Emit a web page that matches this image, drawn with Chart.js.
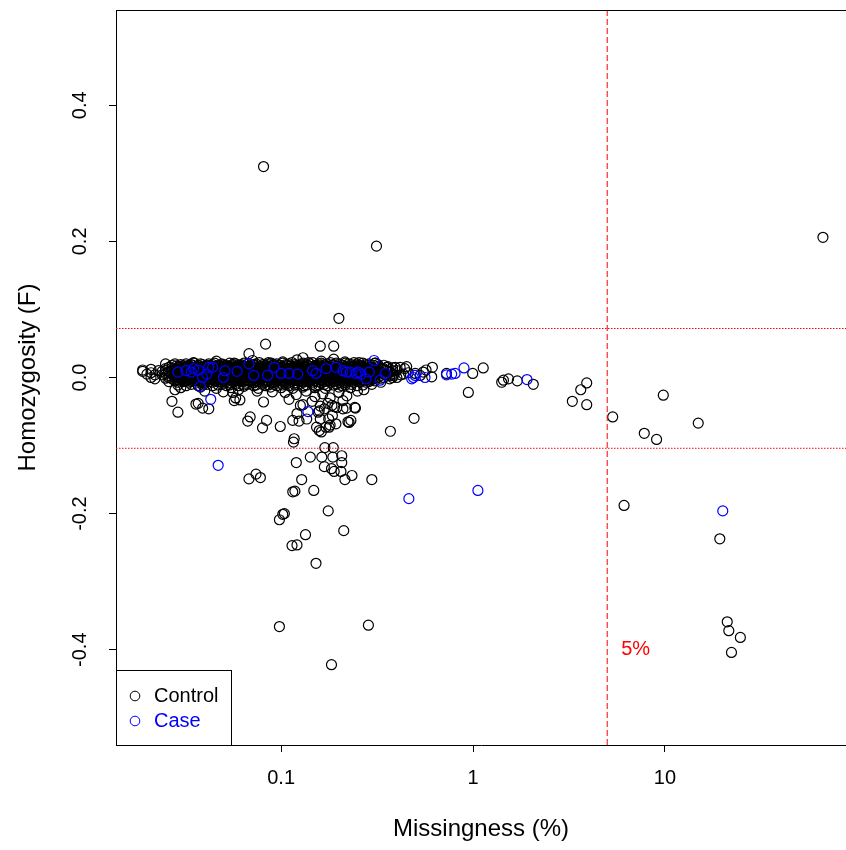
<!DOCTYPE html>
<html>
<head>
<meta charset="utf-8">
<script src="https://cdn.jsdelivr.net/npm/chart.js@4"></script>
<style>
  html, body { margin: 0; padding: 0; background: #fff; }
  #wrap { width: 846px; height: 850px; }
</style>
</head>
<body>
<div id="wrap"><canvas id="chart" width="846" height="850"></canvas></div>
<script>
// axes
const xTicks = [0.1, 1, 10]
const xTickLabels = ['0.1', '1', '10']
const yTicks = [-0.4, -0.2, 0.0, 0.2, 0.4]
const yTickLabels = ['-0.4', '-0.2', '0.0', '0.2', '0.4']
const xMin = 0.0138, xMax = 87.7
const yMin = -0.54, yMax = 0.54

// cut-offs
const missingCutoff = 5
const fUpper = 0.072
const fLower = -0.104

const seriesNames = ['Control', 'Case']
const seriesColors = ['#000000', '#0000ff']

// [missingness %, F]
const controlOutliers = [
  [0.081,0.310],[0.314,0.193],[0.200,0.087],[66.5,0.206],
  [0.083,0.049],[0.160,0.046],[0.188,0.046],[0.068,0.035],[0.130,0.029],
  [0.019,0.009],[0.021,0.000],[0.025,0.020],
  [0.028,-0.018],[0.027,-0.035],[0.029,-0.051],[0.037,-0.038],[0.039,-0.045],[0.042,-0.046],
  [0.056,-0.022],[0.058,-0.030],[0.061,-0.033],
  [0.067,-0.064],[0.069,-0.058],[0.084,-0.063],[0.080,-0.074],[0.099,-0.072],[0.117,-0.090],
  [0.124,-0.064],[0.115,-0.063],
  [0.158,-0.049],[0.168,-0.046],[0.160,-0.061],[0.185,-0.056],[0.171,-0.073],[0.158,-0.078],
  [0.178,-0.073],[0.193,-0.068],[0.210,-0.046],[0.219,-0.045],[0.244,-0.045],[0.226,-0.066],[0.231,-0.063],
  [0.121,-0.053],[0.136,-0.061],[0.153,-0.073],[0.162,-0.080],[0.180,-0.070],[0.177,-0.061],
  [0.156,-0.051],[0.223,-0.065],[0.242,-0.044],[0.195,-0.044],[0.184,-0.041],[0.126,-0.041],
  [0.081,-0.036],[0.057,-0.034],[0.036,-0.039],
  [0.493,-0.060],[0.371,-0.079],[0.945,-0.022],
  [0.393,0.015],[0.417,0.015],[0.451,0.016],[0.434,0.005],[0.385,0.003],[0.401,0.000],
  [0.569,0.011],[0.614,0.015],[0.609,0.001],[0.530,0.003],[0.727,0.006],[0.996,0.006],[1.13,0.014],
  [1.41,-0.007],[1.44,-0.004],[1.53,-0.002],[1.70,-0.005],[2.06,-0.010],
  [3.91,-0.008],[3.64,-0.018],[3.29,-0.035],[3.91,-0.040],[5.34,-0.058],[9.80,-0.026],
  [7.80,-0.082],[9.04,-0.091],[14.9,-0.067],[6.12,-0.188],[19.3,-0.237],
  [21.1,-0.359],[21.5,-0.372],[24.7,-0.382],[22.2,-0.404],
  [0.116,-0.095],[0.120,-0.125],[0.142,-0.117],[0.163,-0.117],[0.168,-0.131],[0.186,-0.117],
  [0.187,-0.103],[0.169,-0.103],[0.189,-0.138],[0.183,-0.134],[0.205,-0.138],[0.207,-0.125],
  [0.207,-0.115],[0.234,-0.144],[0.215,-0.150],
  [0.068,-0.149],[0.074,-0.142],[0.078,-0.147],[0.128,-0.150],[0.297,-0.150],
  [0.115,-0.168],[0.118,-0.167],[0.148,-0.166],[0.104,-0.200],[0.102,-0.201],[0.098,-0.209],
  [0.176,-0.196],[0.212,-0.225],[0.134,-0.231],[0.114,-0.247],[0.121,-0.246],[0.152,-0.273],
  [0.098,-0.366],[0.285,-0.364],[0.183,-0.422]
]

// loose points round the edges of the band
const controlFringe = [
  [0.019,0.011],[0.021,0.012],[0.023,0.010],[0.020,0.005],[0.022,0.004],[0.022,-0.002],[0.021,0.007],
  [0.035,0.022],[0.046,0.024],[0.057,0.021],[0.071,0.025],[0.086,0.022],[0.102,0.023],[0.121,0.026],
  [0.139,0.022],[0.162,0.024],[0.188,0.027],[0.215,0.023],[0.255,0.022],[0.31,0.021],
  [0.030,-0.015],[0.038,-0.014],[0.046,-0.016],[0.055,-0.015],[0.064,-0.013],[0.076,-0.016],
  [0.088,-0.014],[0.100,-0.015],[0.115,-0.016],[0.130,-0.014],[0.150,-0.015],[0.170,-0.016],
  [0.200,-0.014],[0.230,-0.015],
  [0.040,-0.020],[0.050,-0.021],[0.060,-0.018],[0.075,-0.020],[0.090,-0.021],[0.105,-0.022],
  [0.120,-0.025],[0.135,-0.020],[0.150,-0.028],[0.165,-0.024],[0.180,-0.030],[0.200,-0.022],
  [0.220,-0.027],[0.250,-0.020],[0.270,-0.018],[0.110,-0.032],[0.145,-0.035],[0.175,-0.038],
  [0.210,-0.034],[0.130,-0.040],[0.160,-0.042],[0.190,-0.043],
  [0.340,0.012],[0.350,0.004],[0.360,0.016],[0.370,0.008],[0.380,0.000],[0.400,0.010],
  [0.420,0.004],[0.440,0.013],[0.460,0.007],[0.500,0.006],[0.550,0.008]
]

// the dense band round F = 0: missingness columns and the F of each row
const bandX = [
  0.024,0.025,0.026,0.027,0.028,0.029,0.030,0.031,0.032,0.033,
  0.034,0.035,0.037,0.038,0.039,0.041,0.042,0.044,0.045,0.047,
  0.049,0.050,0.052,0.054,0.056,0.058,0.060,0.062,0.064,0.067,
  0.069,0.072,0.074,0.077,0.080,0.083,0.086,0.089,0.092,0.095,
  0.099,0.102,0.106,0.110,0.114,0.118,0.122,0.127,0.131,0.136,
  0.141,0.146,0.151,0.157,0.162,0.168,0.174,0.181,0.187,0.194,
  0.201,0.208,0.216,0.224,0.232,0.240,0.249,0.258,0.267,0.277,
  0.287,0.297,0.308,0.319,0.331,0.343,0.355,0.368,0.381
]
const bandRow1 = [
  null,null,null,0.018,0.020,null,0.019,0.017,0.020,0.018,
  0.019,0.021,0.018,0.020,0.019,0.017,0.020,0.019,0.021,0.018,
  0.020,0.019,0.018,0.021,0.019,0.020,0.018,0.019,0.021,0.020,
  0.018,0.019,0.020,0.022,0.019,0.018,0.020,0.021,0.019,0.020,
  0.018,0.021,0.019,0.020,0.022,0.019,0.018,0.020,0.021,0.019,
  0.020,0.022,0.018,0.020,0.021,0.019,0.020,0.022,0.019,0.021,
  0.020,0.018,0.021,0.020,0.019,0.022,0.020,0.018,0.021,0.019,
  0.020,null,0.021,0.019,null,0.018,null,null,null
]
const bandRow2 = [
  null,0.013,0.015,0.014,0.012,0.015,0.013,0.014,0.016,0.013,
  0.015,0.014,0.012,0.015,0.014,0.016,0.013,0.014,0.015,0.012,
  0.014,0.016,0.013,0.015,0.014,0.012,0.015,0.014,0.016,0.013,
  0.014,0.015,0.013,0.016,0.014,0.015,0.012,0.014,0.016,0.013,
  0.015,0.014,0.013,0.016,0.014,0.015,0.013,0.014,0.016,0.015,
  0.013,0.014,0.016,0.015,0.013,0.014,0.015,0.016,0.013,0.014,
  0.015,0.013,0.016,0.014,0.015,0.013,0.014,0.016,0.015,0.013,
  0.014,0.015,0.013,0.016,0.014,0.013,0.015,null,0.014
]
const bandRow3 = [
  0.009,0.010,0.008,0.010,0.009,0.011,0.008,0.009,0.010,0.008,
  0.010,0.009,0.011,0.008,0.010,0.009,0.008,0.010,0.011,0.009,
  0.008,0.010,0.009,0.011,0.008,0.010,0.009,0.008,0.011,0.010,
  0.009,0.008,0.010,0.011,0.009,0.010,0.008,0.009,0.011,0.010,
  0.008,0.009,0.010,0.011,0.009,0.008,0.010,0.009,0.011,0.008,
  0.010,0.009,0.008,0.011,0.010,0.009,0.008,0.010,0.011,0.009,
  0.010,0.008,0.009,0.011,0.010,0.009,0.008,0.010,0.009,0.011,
  0.008,0.010,0.009,0.011,0.008,0.010,0.009,0.008,0.010
]
const bandRow4 = [
  0.004,0.005,0.003,0.005,0.004,0.006,0.003,0.004,0.005,0.003,
  0.005,0.004,0.006,0.003,0.005,0.004,0.003,0.005,0.006,0.004,
  0.003,0.005,0.004,0.006,0.003,0.005,0.004,0.003,0.006,0.005,
  0.004,0.003,0.005,0.006,0.004,0.005,0.003,0.004,0.006,0.005,
  0.003,0.004,0.005,0.006,0.004,0.003,0.005,0.004,0.006,0.003,
  0.005,0.004,0.003,0.006,0.005,0.004,0.003,0.005,0.006,0.004,
  0.005,0.003,0.004,0.006,0.005,0.004,0.003,0.005,0.004,0.006,
  0.003,0.005,0.004,0.006,0.003,0.005,0.004,0.003,0.005
]
const bandRow5 = [
  null,-0.001,0.000,-0.002,-0.001,0.000,-0.002,-0.001,0.000,-0.002,
  -0.001,0.000,-0.002,-0.001,0.000,-0.002,-0.001,0.001,-0.002,-0.001,
  0.000,-0.002,-0.001,0.001,-0.002,-0.001,0.000,-0.002,-0.001,0.000,
  -0.002,-0.001,0.001,-0.002,-0.001,0.000,-0.002,-0.001,0.000,-0.002,
  -0.001,0.001,-0.002,-0.001,0.000,-0.002,-0.001,0.000,-0.002,-0.001,
  0.001,-0.002,-0.001,0.000,-0.002,-0.001,0.000,-0.002,-0.001,0.001,
  -0.002,-0.001,0.000,-0.002,-0.001,0.000,-0.002,-0.001,0.000,-0.002,
  -0.001,0.000,-0.002,null,-0.001,0.000,null,-0.002,null
]
const bandRow6 = [
  null,null,-0.006,null,-0.005,-0.007,null,-0.006,-0.005,-0.007,
  -0.006,-0.005,-0.007,-0.006,-0.008,-0.005,-0.006,-0.007,-0.005,-0.006,
  -0.007,-0.005,-0.006,-0.008,-0.006,-0.005,-0.007,-0.006,-0.005,-0.007,
  -0.006,-0.008,-0.005,-0.006,-0.007,-0.005,-0.006,-0.008,-0.006,-0.005,
  -0.007,-0.006,-0.005,-0.007,-0.006,-0.008,-0.005,-0.006,-0.007,-0.005,
  -0.006,-0.007,-0.005,-0.006,-0.008,-0.006,-0.005,-0.007,-0.006,-0.005,
  -0.007,-0.006,-0.008,-0.005,-0.006,-0.007,-0.005,-0.006,null,-0.007,
  -0.006,null,-0.005,null,-0.007,null,null,null,null
]
const bandRow7 = [
  null,null,null,null,null,-0.011,null,null,-0.012,null,
  -0.010,null,-0.012,null,-0.011,-0.010,null,-0.012,null,-0.011,
  -0.010,null,-0.012,-0.011,null,-0.010,-0.012,null,-0.011,-0.010,
  null,-0.012,-0.011,null,-0.010,-0.012,-0.011,null,-0.010,-0.012,
  null,-0.011,-0.010,-0.012,null,-0.011,-0.010,null,-0.012,-0.011,
  null,-0.010,-0.012,-0.011,null,-0.010,-0.012,null,-0.011,-0.010,
  null,-0.012,-0.011,null,-0.010,null,-0.012,null,-0.011,null,
  null,-0.010,null,null,null,null,null,null,null
]

// second, staggered set of columns through the thickest part of the band
const bandX2 = [
  0.0285,0.0295,0.0305,0.0315,0.0325,0.0335,0.0345,0.036,0.0375,0.0385,
  0.040,0.0415,0.043,0.0445,0.046,0.048,0.0495,0.051,0.053,0.055,
  0.057,0.059,0.061,0.063,0.0655,0.068,0.0705,0.073,0.0755,0.0785,
  0.0815,0.0845,0.0875,0.0905,0.0935,0.097,0.1005,0.104,0.108,0.112,
  0.116,0.120,0.1245,0.129,0.1335,0.1385,0.1435,0.1485,0.154,0.1595,
  0.165,0.171,0.1775,0.184,0.1905,0.1975,0.2045,0.212,0.220,0.228,
  0.236,0.2445,0.2535,0.2625,0.272,0.282,0.292,0.3025
]
const bandMid1 = [
  0.017,0.016,0.017,0.015,0.017,0.016,0.018,0.016,0.017,0.015,
  0.016,0.018,0.017,0.016,0.015,0.017,0.016,0.018,0.016,0.017,
  0.015,0.016,0.018,0.017,0.016,0.015,0.017,0.018,0.016,0.017,
  0.016,0.015,0.017,0.018,0.016,0.017,0.015,0.016,0.018,0.017,
  0.016,0.017,0.015,0.018,0.016,0.017,0.016,0.015,0.018,0.017,
  0.016,0.017,0.015,0.018,0.016,0.017,0.016,0.018,0.015,0.017,
  0.016,0.018,0.017,0.016,0.015,0.017,0.016,0.018
]
const bandMid2 = [
  0.012,0.011,0.012,0.010,0.012,0.011,0.013,0.011,0.012,0.010,
  0.011,0.013,0.012,0.011,0.010,0.012,0.011,0.013,0.011,0.012,
  0.010,0.011,0.013,0.012,0.011,0.010,0.012,0.013,0.011,0.012,
  0.011,0.010,0.012,0.013,0.011,0.012,0.010,0.011,0.013,0.012,
  0.011,0.012,0.010,0.013,0.011,0.012,0.011,0.010,0.013,0.012,
  0.011,0.012,0.010,0.013,0.011,0.012,0.011,0.013,0.010,0.012,
  0.011,0.013,0.012,0.011,0.010,0.012,0.011,0.013
]
const bandMid3 = [
  0.007,0.006,0.007,0.005,0.007,0.006,0.008,0.006,0.007,0.005,
  0.006,0.008,0.007,0.006,0.005,0.007,0.006,0.008,0.006,0.007,
  0.005,0.006,0.008,0.007,0.006,0.005,0.007,0.008,0.006,0.007,
  0.006,0.005,0.007,0.008,0.006,0.007,0.005,0.006,0.008,0.007,
  0.006,0.007,0.005,0.008,0.006,0.007,0.006,0.005,0.008,0.007,
  0.006,0.007,0.005,0.008,0.006,0.007,0.006,0.008,0.005,0.007,
  0.006,0.008,0.007,0.006,0.005,0.007,0.006,0.008
]
const bandMid4 = [
  0.002,0.001,0.002,0.000,0.002,0.001,0.003,0.001,0.002,0.000,
  0.001,0.003,0.002,0.001,0.000,0.002,0.001,0.003,0.001,0.002,
  0.000,0.001,0.003,0.002,0.001,0.000,0.002,0.003,0.001,0.002,
  0.001,0.000,0.002,0.003,0.001,0.002,0.000,0.001,0.003,0.002,
  0.001,0.002,0.000,0.003,0.001,0.002,0.001,0.000,0.003,0.002,
  0.001,0.002,0.000,0.003,0.001,0.002,0.001,0.003,0.000,0.002,
  0.001,0.003,0.002,0.001,0.000,0.002,0.001,0.003
]
const bandMid5 = [
  -0.003,-0.004,-0.003,-0.005,-0.003,-0.004,-0.002,-0.004,-0.003,-0.005,
  -0.004,-0.002,-0.003,-0.004,-0.005,-0.003,-0.004,-0.002,-0.004,-0.003,
  -0.005,-0.004,-0.002,-0.003,-0.004,-0.005,-0.003,-0.002,-0.004,-0.003,
  -0.004,-0.005,-0.003,-0.002,-0.004,-0.003,-0.005,-0.004,-0.002,-0.003,
  -0.004,-0.003,-0.005,-0.002,-0.004,-0.003,-0.004,-0.005,-0.002,-0.003,
  -0.004,-0.003,-0.005,-0.002,-0.004,-0.003,-0.004,-0.002,-0.005,-0.003,
  -0.004,-0.002,-0.003,-0.004,-0.005,-0.003,-0.004,-0.002
]

const casePoints = [
  [0.038,-0.013],[0.043,-0.032],[0.047,-0.129],[0.138,-0.050],[0.463,-0.178],[1.06,-0.166],
  [0.305,0.025],[0.328,-0.004],[0.489,0.000],[0.499,0.003],[0.562,0.000],[0.479,-0.002],
  [0.727,0.004],[0.774,0.005],[0.806,0.006],[0.897,0.014],[1.91,-0.003],[20.0,-0.196],
  [0.029,0.008],[0.032,0.010],[0.034,0.008],[0.035,0.013],[0.037,0.011],[0.042,0.015],[0.044,0.015],
  [0.041,0.005],[0.039,0.000],[0.051,0.010],[0.050,0.000],[0.059,0.009],[0.068,0.020],[0.072,0.003],
  [0.085,0.003],[0.092,0.015],[0.100,0.006],[0.110,0.006],[0.122,0.005],[0.146,0.010],[0.152,0.006],
  [0.172,0.013],[0.193,0.015],[0.210,0.010],[0.219,0.008],[0.229,0.008],[0.246,0.006],[0.252,0.008],
  [0.261,0.005],[0.288,0.008],[0.277,-0.002],[0.349,0.006]
]

const toXY = pts => pts.map(p => ({ x: p[0], y: p[1] }))

const bandPoints = []
const addRows = (cols, rows) => rows.forEach(row => {
  row.forEach((f, i) => {
    if (f !== null && cols[i] !== undefined) bandPoints.push({ x: cols[i], y: f })
  })
})
addRows(bandX, [bandRow1, bandRow2, bandRow3, bandRow4, bandRow5, bandRow6, bandRow7])
addRows(bandX2, [bandMid1, bandMid2, bandMid3, bandMid4, bandMid5])

const controlData = bandPoints.concat(toXY(controlFringe), toXY(controlOutliers))

const font = 'Liberation Sans, Arial, sans-serif'

const extras = {
  id: 'extras',
  afterDraw(chart) {
    const { ctx, chartArea, scales } = chart
    const x = scales.x, y = scales.y
    ctx.save()
    // top of the box
    ctx.strokeStyle = '#000'
    ctx.lineWidth = 1
    ctx.beginPath()
    ctx.moveTo(chartArea.left, chartArea.top + 0.5)
    ctx.lineTo(chartArea.right, chartArea.top + 0.5)
    ctx.stroke()

    // y tick labels, read upwards
    ctx.fillStyle = '#000'
    ctx.font = '20px ' + font
    ctx.textAlign = 'center'
    ctx.textBaseline = 'middle'
    yTicks.forEach((v, i) => {
      ctx.save()
      ctx.translate(80, y.getPixelForValue(v))
      ctx.rotate(-Math.PI / 2)
      ctx.fillText(yTickLabels[i], 0, 0)
      ctx.restore()
    })

    // 5% note
    ctx.fillStyle = '#ff0000'
    ctx.textAlign = 'left'
    ctx.fillText(missingCutoff + '%', x.getPixelForValue(missingCutoff) + 14, y.getPixelForValue(-0.4))

    // legend
    const lx = chartArea.left, ly = 670, lw = 115, lh = chartArea.bottom - 670
    ctx.fillStyle = '#fff'
    ctx.fillRect(lx, ly, lw, lh)
    ctx.strokeStyle = '#000'
    ctx.strokeRect(lx + 0.5, ly + 0.5, lw, lh)
    seriesNames.forEach((name, i) => {
      const cy = 696 + i * 25
      ctx.strokeStyle = seriesColors[i]
      ctx.beginPath()
      ctx.arc(lx + 19, cy, 4.8, 0, Math.PI * 2)
      ctx.stroke()
      ctx.fillStyle = seriesColors[i]
      ctx.textAlign = 'left'
      ctx.fillText(name, lx + 38, cy)
    })
    ctx.restore()
  }
}

const circle = color => ({
  backgroundColor: 'rgba(0,0,0,0)',
  borderColor: color,
  pointRadius: 5,
  pointHoverRadius: 5,
  pointBorderWidth: 1.2
})

new Chart(document.getElementById('chart'), {
  type: 'scatter',
  data: {
    datasets: [
      {
        label: 'cutoff',
        data: [{ x: missingCutoff, y: yMin }, { x: missingCutoff, y: yMax }],
        showLine: true, pointRadius: 0, borderColor: '#ff0000', borderWidth: 1, borderDash: [6, 3], order: 1
      },
      {
        label: 'upper',
        data: [{ x: xMin, y: fUpper }, { x: xMax, y: fUpper }],
        showLine: true, pointRadius: 0, borderColor: '#ff0000', borderWidth: 1, borderDash: [1.5, 1.5], order: 1
      },
      {
        label: 'lower',
        data: [{ x: xMin, y: fLower }, { x: xMax, y: fLower }],
        showLine: true, pointRadius: 0, borderColor: '#ff0000', borderWidth: 1, borderDash: [1.5, 1.5], order: 1
      },
      { label: seriesNames[1], data: toXY(casePoints), ...circle(seriesColors[1]), order: 2 },
      { label: seriesNames[0], data: controlData, ...circle(seriesColors[0]), order: 3 }
    ]
  },
  options: {
    responsive: false,
    animation: false,
    events: [],
    layout: { autoPadding: false, padding: { top: 10, right: 0, left: 0, bottom: 0 } },
    plugins: { legend: { display: false }, tooltip: { enabled: false } },
    scales: {
      x: {
        type: 'logarithmic',
        min: xMin,
        max: xMax,
        afterBuildTicks: s => { s.ticks = xTicks.map(v => ({ value: v })) },
        afterFit: s => { s.height = 105; s.paddingLeft = 0; s.paddingRight = 0 },
        grid: { drawOnChartArea: false, drawTicks: true, tickLength: 7, tickColor: '#000' },
        border: { display: true, color: '#000', width: 1 },
        ticks: {
          color: '#000',
          font: { family: font, size: 20 },
          padding: 14,
          maxRotation: 0,
          callback: v => xTickLabels[xTicks.indexOf(v)]
        },
        title: {
          display: true,
          text: 'Missingness (%)',
          color: '#000',
          font: { family: font, size: 24 },
          padding: { top: 6, bottom: 6 }
        }
      },
      y: {
        min: yMin,
        max: yMax,
        afterBuildTicks: s => { s.ticks = yTicks.map(v => ({ value: v })) },
        afterFit: s => { s.width = 116; s.paddingTop = 0; s.paddingBottom = 0 },
        grid: { drawOnChartArea: false, drawTicks: true, tickLength: 7, tickColor: '#000' },
        border: { display: true, color: '#000', width: 1 },
        ticks: { display: false },
        title: {
          display: true,
          text: 'Homozygosity (F)',
          color: '#000',
          font: { family: font, size: 24 },
          padding: { top: 14, bottom: 14 }
        }
      }
    }
  },
  plugins: [extras]
})
</script>
</body>
</html>
